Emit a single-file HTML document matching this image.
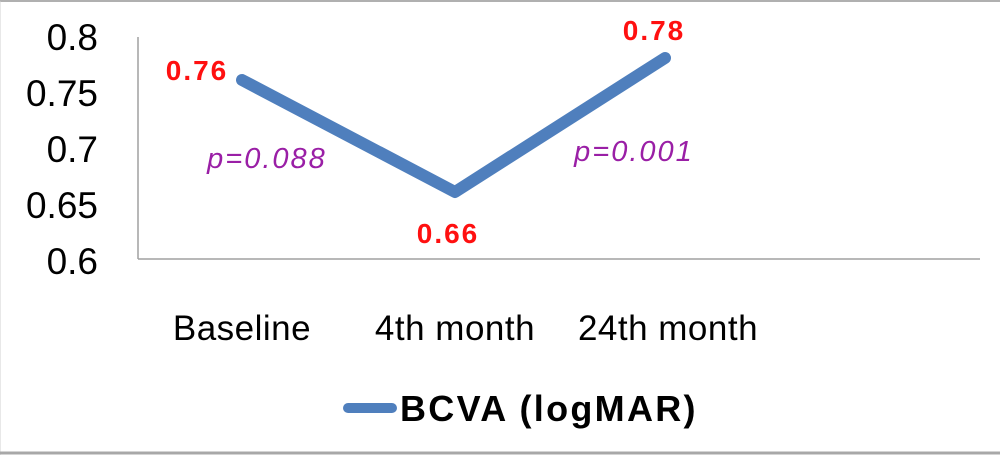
<!DOCTYPE html>
<html><head><style>
body{margin:0;background:#fff;}
svg{display:block;}
text{font-family:"Liberation Sans",Arial,sans-serif;}
</style></head><body>
<svg width="1000" height="455" viewBox="0 0 1000 455">
<rect x="0" y="0" width="1000" height="455" fill="#fff"/>
<line x1="0" y1="1" x2="1000" y2="1" stroke="#b0b0b0" stroke-width="2"/>
<line x1="0" y1="1" x2="0" y2="455" stroke="#d0d0d0" stroke-width="1"/>
<line x1="0" y1="453" x2="1000" y2="453" stroke="#a8a8a8" stroke-width="3"/>
<line x1="138" y1="37" x2="138" y2="259" stroke="#a0a0a0" stroke-width="1.5"/>
<line x1="138" y1="259" x2="980" y2="259" stroke="#a0a0a0" stroke-width="1.5"/>
<g font-size="37" fill="#000" text-anchor="end">
<text x="98" y="50">0.8</text>
<text x="98" y="106">0.75</text>
<text x="98" y="162">0.7</text>
<text x="98" y="218">0.65</text>
<text x="98" y="274">0.6</text>
</g>
<g font-size="35" fill="#000" text-anchor="middle" letter-spacing="0.5">
<text x="242" y="340">Baseline</text>
<text x="455" y="340">4th month</text>
<text x="668" y="340">24th month</text>
</g>
<polyline points="242,80 455,192 665,58" fill="none" stroke="#4f7fbd" stroke-width="12" stroke-linecap="round" stroke-linejoin="round"/>
<g font-size="28" font-weight="bold" fill="#ff1010" text-anchor="middle" letter-spacing="2">
<text x="197" y="80">0.76</text>
<text x="448" y="243">0.66</text>
<text x="654" y="40">0.78</text>
</g>
<g font-size="29" font-style="italic" fill="#9a1fa6" text-anchor="middle" letter-spacing="2">
<text x="267" y="168">p=0.088</text>
<text x="634" y="161">p=0.001</text>
</g>
<line x1="348" y1="408" x2="392" y2="408" stroke="#4f7fbd" stroke-width="10" stroke-linecap="round"/>
<text x="400" y="421" font-size="36" font-weight="bold" fill="#000" letter-spacing="2.3">BCVA (logMAR)</text>
</svg>
</body></html>
